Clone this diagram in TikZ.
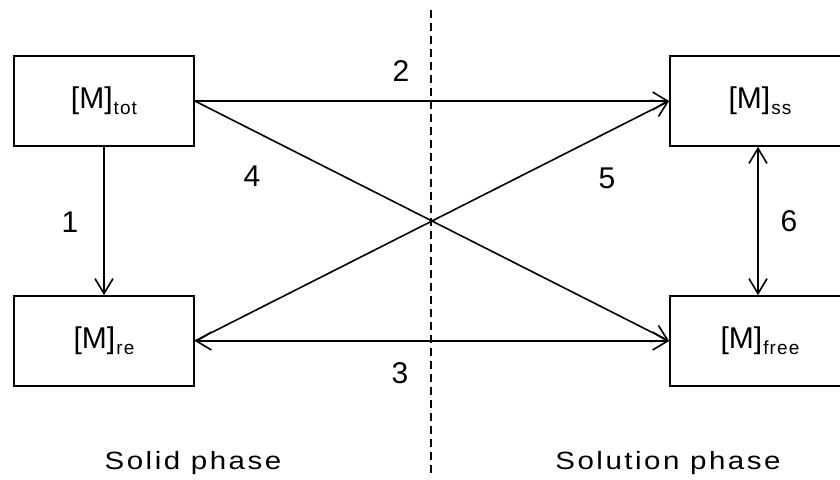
\documentclass[tikz,border=0pt]{standalone}
\usepackage{fontspec}
\setmainfont{Liberation Sans}
\newfontfamily\trackedfont[FakeStretch=1.18,LetterSpace=10]{Liberation Sans}
\newfontfamily\subfont[LetterSpace=6]{Liberation Sans}
\usetikzlibrary{arrows.meta}
\newcommand{\conc}[1]{[M]\kern1pt\raisebox{-6pt}{\fontsize{19}{19}\subfont #1}}
\tikzset{
  pool/.style={draw, line width=1.7pt, minimum width=180pt, minimum height=90pt, inner sep=0pt, font=\fontsize{30}{30}\selectfont},
  flow/.style={line width=1.6pt, -{Straight Barb[length=15pt,width=18pt,line width=1.6pt]}},
  both/.style={line width=1.6pt, {Straight Barb[length=15pt,width=18pt,line width=1.6pt]}-{Straight Barb[length=15pt,width=18pt,line width=1.6pt]}},
  num/.style={font=\fontsize{30}{30}\selectfont, inner sep=0pt},
  phase/.style={font=\fontsize{25}{25}\trackedfont, inner sep=0pt, anchor=base},
  divider/.style={line width=1.5pt, dash pattern=on 8pt off 5pt}
}
\begin{document}
\begin{tikzpicture}[x=1pt,y=-1pt]
\useasboundingbox[fill=white] (0,0) rectangle (840,479);
\coordinate (dtop) at (431,10);
\coordinate (dbot) at (431,477);
\draw[divider] (dtop) -- (dbot);
\node[pool] (tot) at (104,101) {\conc{tot}};
\node[pool] (ss) at (760,101) {\conc{ss}};
\node[pool] (re) at (104,341) {\conc{re}};
\node[pool] (free) at (760,341) {\conc{free}};
\draw[flow] (tot.south) -- (re.north);
\draw[flow] (tot.east) -- (ss.west);
\draw[flow] (tot.east) -- (free.west);
\draw[flow] (re.east) -- (ss.west);
\draw[both] (re.east) -- (free.west);
\draw[both] ([xshift=-2pt]ss.south) -- ([xshift=-2pt]free.north);
\node[num] (n1) at (70,222) {1};
\node[num] (n2) at (401,71) {2};
\node[num] (n3) at (400,373) {3};
\node[num] (n4) at (252,176) {4};
\node[num] (n5) at (607,178) {5};
\node[num] (n6) at (789,221) {6};
\node[phase] (solid) at (193,469) {Solid phase};
\node[phase] (solution) at (668,469) {Solution phase};
\end{tikzpicture}
\end{document}
